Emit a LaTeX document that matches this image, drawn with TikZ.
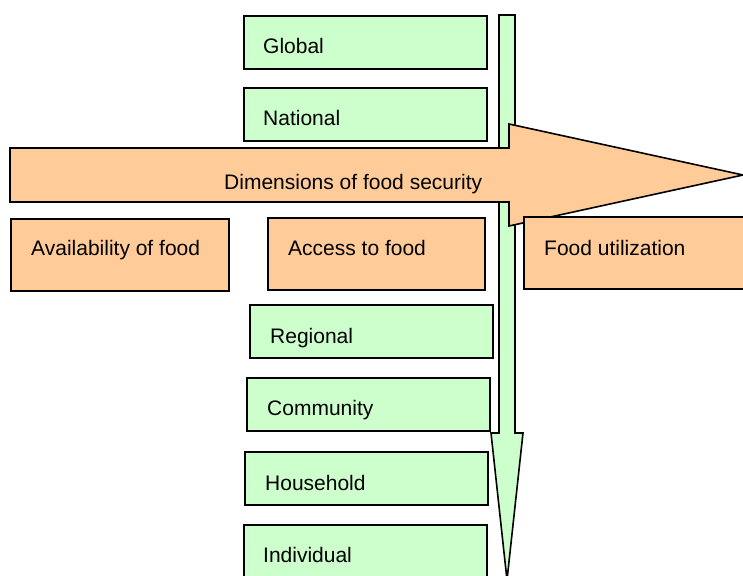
\documentclass[tikz,border=0pt]{standalone}
\usepackage{fontspec}
\setmainfont{Liberation Sans}
\definecolor{lgreen}{HTML}{CCFFCC}
\definecolor{lorange}{HTML}{FFCC99}
\begin{document}
\begin{tikzpicture}[x=1pt,y=-1pt,
  box/.style={draw=black, line width=1.6pt, anchor=north west, inner sep=0pt, rectangle},
  gbox/.style={box, fill=lgreen, minimum width=243pt, minimum height=53pt},
  obox/.style={box, fill=lorange, minimum width=217pt, minimum height=72pt},
  lbl/.style={anchor=base west, inner sep=0pt, font=\fontsize{21}{25}\selectfont},
  bigarrow/.style={draw=black, line width=1.6pt, line join=miter}]
\useasboundingbox (0,0) rectangle (743,575);
% vertical arrow
\draw[bigarrow, fill=lgreen] (499,15) -- (515,15) -- (515,433) -- (523,433) -- (507,580) -- (491,433) -- (499,433) -- cycle;
% green boxes
\node[gbox] (global) at (243,15) {};
\node[lbl] (tglobal) at (263,54) {Global};
\node[gbox] (national) at (243,87) {};
\node[lbl] (tnational) at (263,125) {National};
\node[gbox] (regional) at (249,304) {};
\node[lbl] (tregional) at (270,343) {Regional};
\node[gbox] (community) at (246,377) {};
\node[lbl] (tcommunity) at (267,415) {Community};
\node[gbox] (household) at (244,451) {};
\node[lbl] (thousehold) at (265,490) {Household};
\node[gbox] (individual) at (243,524) {};
\node[lbl] (tindividual) at (263,562) {Individual};
% horizontal arrow
\draw[bigarrow, fill=lorange] (10,148) -- (509,148) -- (509,124) -- (743,175) -- (509,226) -- (509,202) -- (10,202) -- cycle;
\node[lbl] (tdim) at (224,189) {Dimensions of food security};
% orange boxes
\node[obox, minimum width=218pt] (avail) at (10,218) {};
\node[lbl] (tavail) at (31,255) {Availability of food};
\node[obox] (access) at (267,217) {};
\node[lbl] (taccess) at (288,255) {Access to food};
\node[obox, minimum width=225pt] (util) at (523,216) {};
\node[lbl] (tutil) at (544,255) {Food utilization};
\end{tikzpicture}
\end{document}
